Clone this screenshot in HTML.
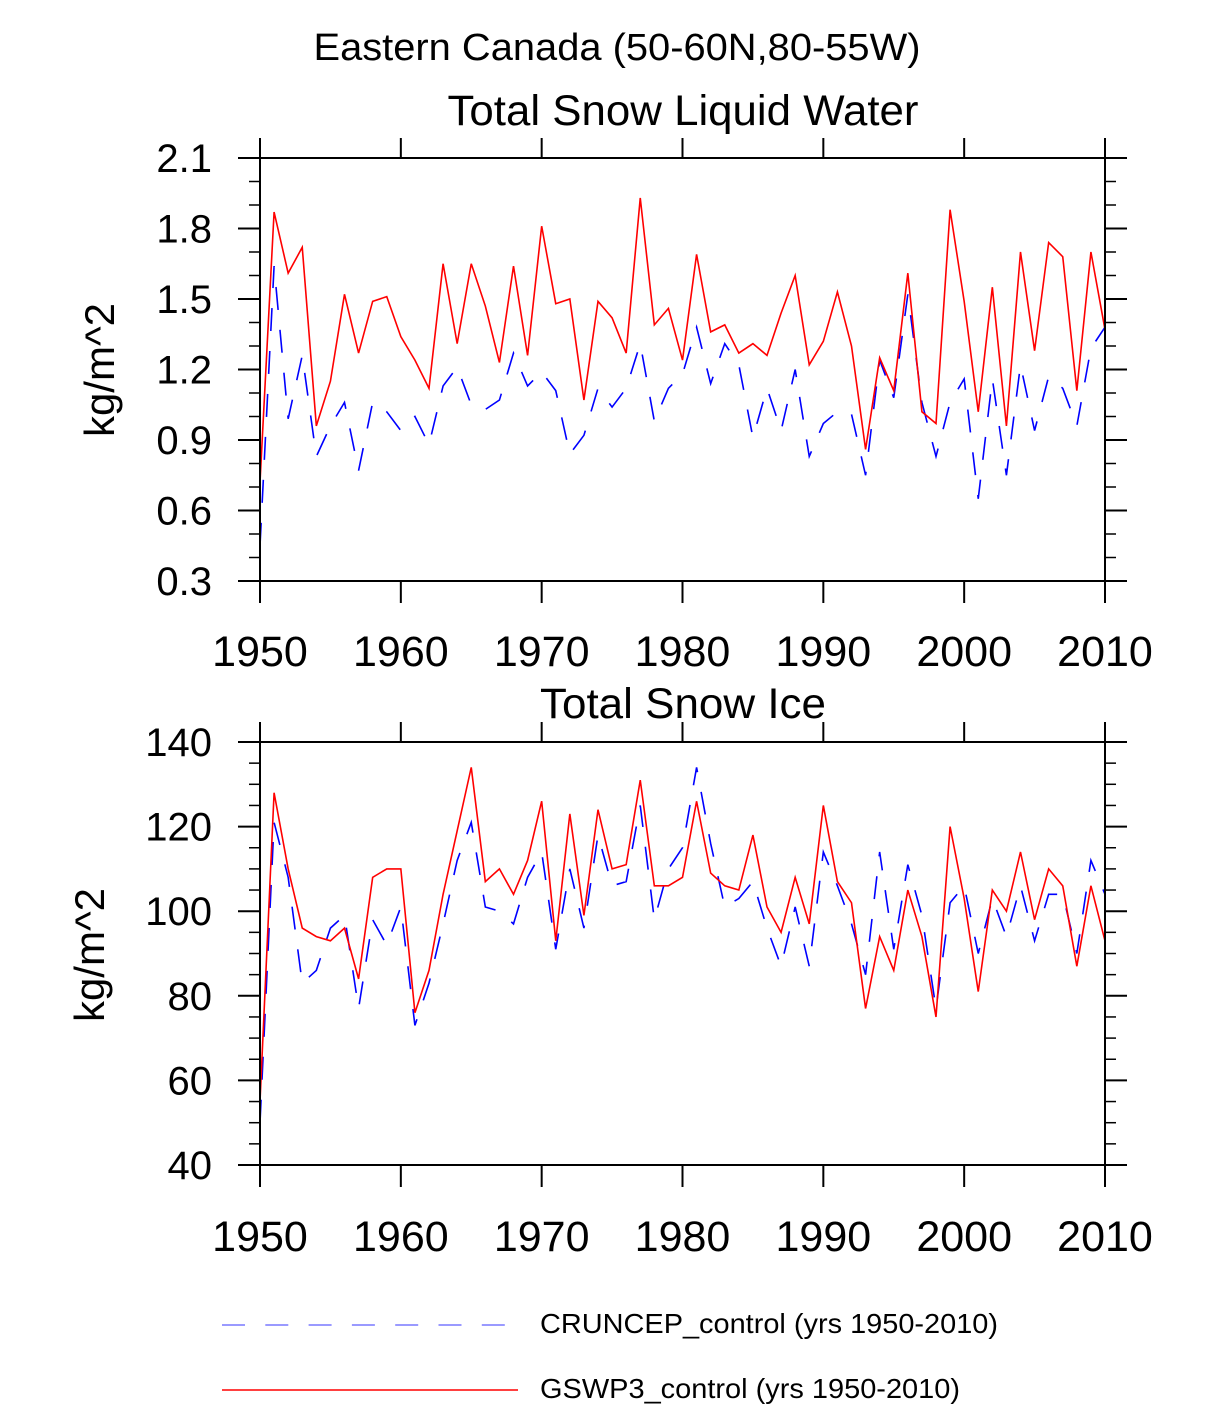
<!DOCTYPE html>
<html><head><meta charset="utf-8"><style>
body{margin:0;background:#fff;}
svg{display:block;font-family:"Liberation Sans",Arial,sans-serif;}
</style></head><body>
<svg id="chart" width="1224" height="1405" viewBox="0 0 1224 1405">
<text x="617" y="60" font-size="38" text-anchor="middle" textLength="607" lengthAdjust="spacingAndGlyphs">Eastern Canada (50-60N,80-55W)</text>
<text x="683" y="125" font-size="43" text-anchor="middle" textLength="471" lengthAdjust="spacingAndGlyphs">Total Snow Liquid Water</text>
<text x="683" y="718" font-size="43" text-anchor="middle" textLength="286" lengthAdjust="spacingAndGlyphs">Total Snow Ice</text>
<text transform="translate(114,370) rotate(-90)" font-size="42" text-anchor="middle">kg/m^2</text>
<text transform="translate(104,955) rotate(-90)" font-size="42" text-anchor="middle">kg/m^2</text>
<g id="p1"></g>
<g id="p2"></g>
<g>
<line x1="222" y1="1325" x2="518" y2="1325" stroke="#7878ff" stroke-width="1.6" stroke-dasharray="23,20.3"/>
<text x="540" y="1333" font-size="28" textLength="458" lengthAdjust="spacingAndGlyphs">CRUNCEP_control (yrs 1950-2010)</text>
<line x1="222" y1="1390" x2="518" y2="1390" stroke="#f00" stroke-width="1.5"/>
<text x="540" y="1398" font-size="28" textLength="420" lengthAdjust="spacingAndGlyphs">GSWP3_control (yrs 1950-2010)</text>
</g>
</svg>
<script>
const years = Array.from({length:61},(_, i)=>1950+i);
const liqGswp3 = [0.72,1.87,1.61,1.72,0.96,1.15,1.52,1.27,1.49,1.51,1.34,1.24,1.12,1.65,1.31,1.65,1.47,1.23,1.64,1.26,1.81,1.48,1.50,1.07,1.49,1.42,1.27,1.93,1.39,1.46,1.24,1.69,1.36,1.39,1.27,1.31,1.26,1.44,1.60,1.22,1.32,1.53,1.30,0.86,1.25,1.11,1.61,1.02,0.97,1.88,1.49,1.02,1.55,0.96,1.70,1.28,1.74,1.68,1.11,1.70,1.37];
const liqCruncep = [0.45,1.64,0.99,1.26,0.83,0.96,1.06,0.77,1.06,1.02,0.94,1.00,0.88,1.13,1.21,1.05,1.03,1.07,1.27,1.13,1.19,1.11,0.84,0.92,1.12,1.04,1.12,1.31,0.98,1.12,1.18,1.38,1.14,1.31,1.22,0.91,1.12,0.94,1.20,0.83,0.97,1.02,1.01,0.75,1.24,1.08,1.52,1.06,0.83,1.06,1.16,0.65,1.16,0.75,1.22,0.94,1.17,1.12,0.96,1.29,1.38];
const iceGswp3 = [55,128,110,96,94,93,96,84,108,110,110,76,86,104,119,134,107,110,104,112,126,93,123,99,124,110,111,131,106,106,108,126,109,106,105,118,101,95,108,97,125,107,102,77,94,86,105,94,75,120,103,81,105,100,114,98,110,106,87,106,93];
const iceCruncep = [50,121,108,83,86,96,99,77,98,92,101,73,83,97,112,121,101,100,97,108,114,91,110,96,118,106,107,125,98,110,115,134,116,101,103,107,96,87,101,87,114,106,97,85,114,91,111,99,77,102,106,90,103,94,106,93,104,104,90,112,104];
const xTicks = [1950,1960,1970,1980,1990,2000,2010];
const liqTicks = ["0.3","0.6","0.9","1.2","1.5","1.8","2.1"];
const iceTicks = ["40","60","80","100","120","140"];

const NS="http://www.w3.org/2000/svg";
function mk(parent,tag,attrs){const e=document.createElementNS(NS,tag);for(const k in attrs)e.setAttribute(k,attrs[k]);parent.appendChild(e);return e;}
const X0=260,X1=1105;
const xs = y => X0+(y-1950)/(2010-1950)*(X1-X0);

function panel(g,top,bot,ymin,ymax,step,minor,labels,s1,s2,xlabY,nm){
  const ys = v => bot-(v-ymin)/(ymax-ymin)*(bot-top);
  for(let v=ymin; v<=ymax+1e-9; v+=minor){
    const isMajor = Math.abs(((v-ymin)/step)-Math.round((v-ymin)/step))<1e-6;
    const L = isMajor?22:11;
    let t=mk(g,'line',{x1:X0-L,y1:ys(v),x2:X0,y2:ys(v),stroke:'#000','stroke-width':isMajor?2:1.5});
    
    
    t=mk(g,'line',{x1:X1,y1:ys(v),x2:X1+L,y2:ys(v),stroke:'#000','stroke-width':isMajor?2:1.5});
    
    
  }
  labels.forEach((lab,i)=>{
    const t=mk(g,'text',{x:212,y:ys(ymin+i*step)+14,'font-size':40,'text-anchor':'end'});
    t.textContent=lab;
    
    
  });
  xTicks.forEach(yr=>{
    let t=mk(g,'line',{x1:xs(yr),y1:top-20,x2:xs(yr),y2:top,stroke:'#000','stroke-width':2});
    
    
    t=mk(g,'line',{x1:xs(yr),y1:bot,x2:xs(yr),y2:bot+22,stroke:'#000','stroke-width':2});
    
    
    t=mk(g,'text',{x:xs(yr),y:xlabY,'font-size':43,'text-anchor':'middle'});
    t.textContent=yr;
    
    
  });
  let p=mk(g,'polyline',{points:years.map((y,i)=>xs(y)+','+ys(s1[i])).join(' '),fill:'none',stroke:'#00f','stroke-width':1.6,'stroke-dasharray':'23,20'});
  
  
  p=mk(g,'polyline',{points:years.map((y,i)=>xs(y)+','+ys(s2[i])).join(' '),fill:'none',stroke:'#f00','stroke-width':1.6});
  
  
  const r=mk(g,'rect',{x:X0,y:top,width:X1-X0,height:bot-top,fill:'none',stroke:'#000','stroke-width':2});
  
  
}
panel(document.getElementById('p1'),158,581,0.3,2.1,0.3,0.1,liqTicks,liqCruncep,liqGswp3,666,'top');
panel(document.getElementById('p2'),742,1165,40,140,20,5,iceTicks,iceCruncep,iceGswp3,1251,'bottom');
</script>
</body></html>
